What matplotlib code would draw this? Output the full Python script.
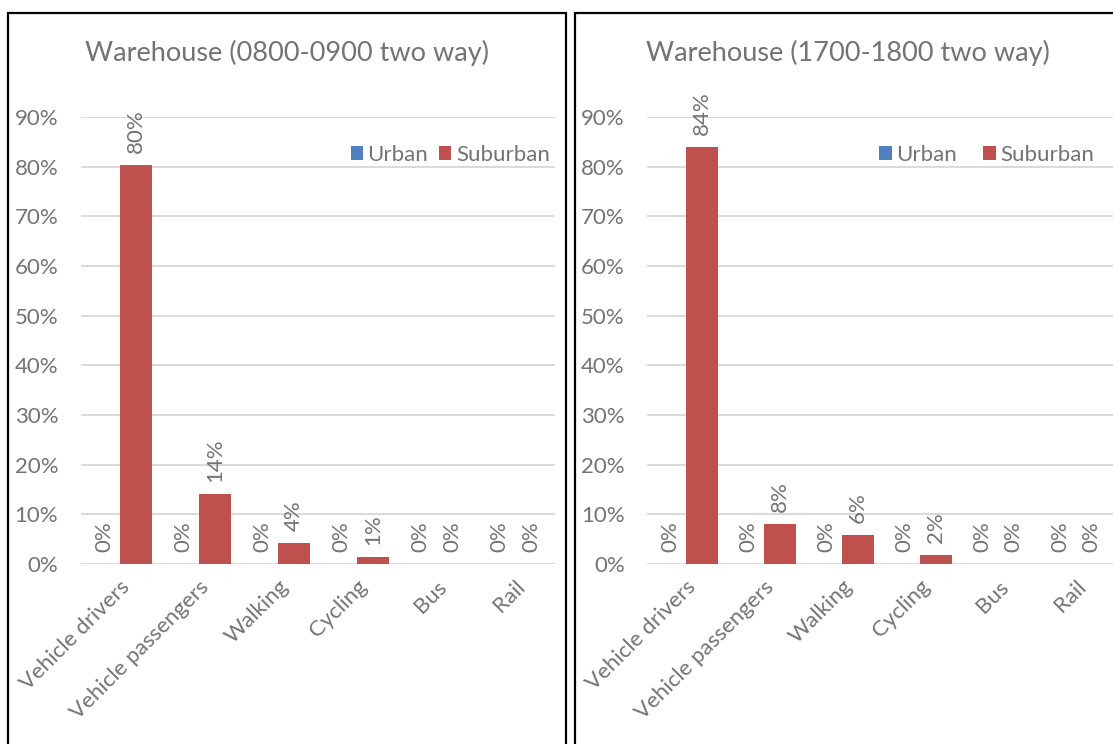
import matplotlib.pyplot as plt
from matplotlib.patches import Rectangle
import numpy as np

plt.rcParams['font.family'] = ['Lato', 'DejaVu Sans']

categories = ['Vehicle drivers', 'Vehicle passengers', 'Walking', 'Cycling', 'Bus', 'Rail']
series_names = ['Urban', 'Suburban']

am_title = 'Warehouse (0800-0900 two way)'
am_urban = [0, 0, 0, 0, 0, 0]
am_suburban = [80.3, 14.0, 4.2, 1.4, 0, 0]
am_labels_urban = ['0%', '0%', '0%', '0%', '0%', '0%']
am_labels_suburban = ['80%', '14%', '4%', '1%', '0%', '0%']

pm_title = 'Warehouse (1700-1800 two way)'
pm_urban = [0, 0, 0, 0, 0, 0]
pm_suburban = [83.9, 8.0, 5.8, 1.8, 0, 0]
pm_labels_urban = ['0%', '0%', '0%', '0%', '0%', '0%']
pm_labels_suburban = ['84%', '8%', '6%', '2%', '0%', '0%']

yticks = [0, 10, 20, 30, 40, 50, 60, 70, 80, 90]

TEXT = '#737373'
GRID = '#D9D9D9'
COLORS = ['#4F81BD', '#C0504D']
FS = 16

W, H = 1113, 744


def draw_panel(fig, rect, title, title_x, urban, suburban, lab_u, lab_s, bw, leg_x, colsp):
    ax = fig.add_axes(rect)
    x = np.arange(len(categories))
    ax.bar(x - bw / 2, urban, bw, color=COLORS[0], label=series_names[0])
    ax.bar(x + bw / 2, suburban, bw, color=COLORS[1], label=series_names[1])

    # data labels, rotated like the excel original
    for xi, v, t in zip(x - bw / 2, urban, lab_u):
        ax.annotate(t, (xi, v), xytext=(0, 9), textcoords='offset points',
                    rotation=90, ha='center', va='bottom', color=TEXT, fontsize=FS)
    for xi, v, t in zip(x + bw / 2, suburban, lab_s):
        ax.annotate(t, (xi, v), xytext=(0, 9), textcoords='offset points',
                    rotation=90, ha='center', va='bottom', color=TEXT, fontsize=FS)

    ax.set_xlim(-0.5, len(categories) - 0.5)
    ax.set_ylim(0, 90)
    ax.set_yticks(yticks)
    ax.set_yticklabels([f'{t}%' for t in yticks])
    ax.set_xticks(x)
    ax.set_xticklabels(categories, rotation=45, ha='right', va='top',
                       rotation_mode='anchor')
    ax.tick_params(length=0, labelsize=FS, colors=TEXT)
    ax.tick_params(axis='y', pad=16)
    ax.tick_params(axis='x', pad=9)
    ax.grid(axis='y', color=GRID, linewidth=1.4)
    ax.set_axisbelow(True)
    for s in ax.spines.values():
        s.set_visible(False)

    ax.legend(loc='center right', bbox_to_anchor=(leg_x, 0.915), ncol=2,
              frameon=False, fontsize=FS, labelcolor=TEXT, handlelength=0.55,
              handleheight=0.55, handletextpad=0.2, columnspacing=colsp,
              borderpad=0, borderaxespad=0)

    fig.text(title_x / W, 1 - 53 / H, title, ha='center', va='center',
             color=TEXT, fontsize=19.5)
    return ax


fig = plt.figure(figsize=(W / 100, H / 100), dpi=100)

# panel frames
fig.patches.append(Rectangle((8 / W, -0.02), (566 - 8) / W, 1.02 - 13 / H,
                             transform=fig.transFigure, fill=False,
                             edgecolor='black', linewidth=1.6))
fig.patches.append(Rectangle((575 / W, -0.02), (1120 - 575) / W, 1.02 - 13 / H,
                             transform=fig.transFigure, fill=False,
                             edgecolor='black', linewidth=1.6))

draw_panel(fig, [80.5 / W, 1 - 564 / H, 474 / W, 447 / H], am_title, 287,
           am_urban, am_suburban, am_labels_urban, am_labels_suburban, 0.405, 0.99, 0.5)
draw_panel(fig, [647 / W, 1 - 564 / H, 468 / W, 447 / H], pm_title, 848,
           pm_urban, pm_suburban, pm_labels_urban, pm_labels_suburban, 0.405, 0.955, 1.2)

plt.savefig('out.png', dpi=100)
